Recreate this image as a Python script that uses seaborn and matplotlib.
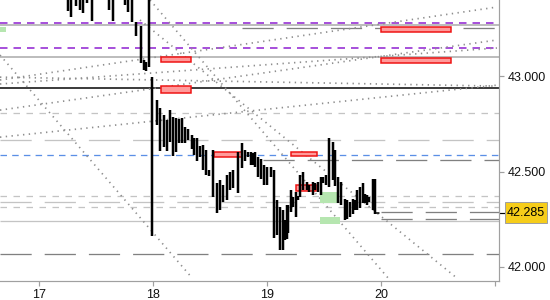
import matplotlib
matplotlib.use("Agg")
import matplotlib.pyplot as plt
import matplotlib.transforms as mtransforms
from matplotlib.patches import Rectangle
import numpy as np
import pandas as pd
import seaborn as sns

# ---------------- data ----------------
bar_day = [17.252, 17.278, 17.318, 17.357, 17.388, 17.419, 17.467, 17.608, 17.643, 17.752, 17.779, 17.814,
           17.849, 17.893, 17.919, 17.937, 17.963,
           17.989, 18.033, 18.062, 18.092, 18.121, 18.145, 18.174, 18.200, 18.226, 18.256, 18.279, 18.308,
           18.338, 18.361, 18.385, 18.411, 18.440, 18.464, 18.490, 18.522,
           18.560, 18.587, 18.613, 18.644, 18.674, 18.705, 18.747, 18.777, 18.806, 18.832, 18.858, 18.879,
           18.894, 18.923, 18.946, 18.973, 19.002, 19.032, 19.061,
           19.087, 19.113, 19.137, 19.153, 19.172, 19.186, 19.207, 19.230, 19.254, 19.274, 19.289, 19.318,
           19.348, 19.371, 19.400, 19.421, 19.450, 19.471, 19.493,
           19.517, 19.546, 19.576, 19.596, 19.625, 19.646, 19.684, 19.704, 19.728, 19.752, 19.772, 19.787,
           19.816, 19.839, 19.860, 19.880, 19.897, 19.927, 19.950]
bar_high = [43.45, 43.45, 43.45, 43.45, 43.45, 43.45, 43.45, 43.45, 43.45, 43.45, 43.45, 43.45,
            43.285, 43.264, 43.086, 43.075, 43.45,
            42.998, 42.876, 42.832, 42.797, 42.770, 42.823, 42.788, 42.779, 42.774, 42.779, 42.735, 42.722,
            42.692, 42.674, 42.674, 42.634, 42.639, 42.613, 42.508, 42.613,
            42.439, 42.455, 42.429, 42.482, 42.497, 42.508, 42.604, 42.648, 42.613, 42.602, 42.604, 42.596,
            42.604, 42.578, 42.569, 42.534, 42.525, 42.525, 42.508,
            42.351, 42.315, 42.298, 42.245, 42.325, 42.325, 42.403, 42.366, 42.394, 42.371, 42.482, 42.499,
            42.446, 42.429, 42.446, 42.439, 42.446, 42.473, 42.473,
            42.482, 42.674, 42.657, 42.613, 42.473, 42.446, 42.359, 42.350, 42.341, 42.359, 42.350, 42.403,
            42.420, 42.438, 42.385, 42.377, 42.368, 42.464, 42.464]
bar_low = [43.343, 43.311, 43.369, 43.348, 43.332, 43.385, 43.290, 43.348, 43.290, 43.374, 43.338, 43.285,
           43.212, 43.070, 43.033, 43.028, 43.049,
           42.163, 42.744, 42.608, 42.630, 42.608, 42.657, 42.581, 42.604, 42.651, 42.648, 42.651, 42.665,
           42.617, 42.587, 42.557, 42.578, 42.508, 42.482, 42.476, 42.368,
           42.284, 42.298, 42.340, 42.350, 42.403, 42.413, 42.389, 42.517, 42.557, 42.576, 42.534, 42.534,
           42.525, 42.473, 42.464, 42.429, 42.429, 42.473, 42.151,
           42.165, 42.088, 42.088, 42.141, 42.144, 42.177, 42.289, 42.313, 42.263, 42.350, 42.368, 42.403,
           42.403, 42.394, 42.377, 42.403, 42.394, 42.377, 42.438,
           42.429, 42.420, 42.455, 42.424, 42.333, 42.324, 42.245, 42.254, 42.263, 42.280, 42.298, 42.298,
           42.307, 42.333, 42.333, 42.324, 42.342, 42.298, 42.280]
last_price = 42.285
last_day = 19.950

# horizontal levels: price, style key, start day (None = full width)
level_price = [43.278, 43.147, 43.269, 43.100, 43.252, 42.937, 42.806, 42.665, 42.585, 42.559,
               42.371, 42.343, 42.317, 42.240, 42.286, 42.254, 42.070]
level_style = ["purple", "purple", "grey", "grey", "dark", "black", "light_short", "light_long", "blue", "dark",
               "light_short", "light_long", "light_short", "light_solid", "dark", "dark", "dark"]
level_start = [None, None, None, None, 18.78, None, None, None, None, 18.96,
               None, None, None, None, 20.0, 20.0, None]

# dotted trend lines: (day0, price0, day1, price1)
trend_x0 = [16.655, 17.972, 17.884, 16.655, 16.655, 16.655, 16.655, 16.655]
trend_y0 = [43.112, 43.401, 43.296, 42.981, 42.823, 42.681, 42.996, 42.960]
trend_x1 = [18.343, 20.079, 20.667, 21.018, 21.018, 21.018, 21.018, 21.018]
trend_y1 = [41.941, 41.930, 41.941, 43.364, 43.191, 42.954, 42.949, 43.149]

# red zones: day0, day1, price_low, price_high
red_x0 = [18.069, 18.069, 20.000, 20.000, 18.534, 19.210, 19.254]
red_x1 = [18.329, 18.329, 20.612, 20.612, 18.782, 19.435, 19.432]
red_lo = [43.077, 42.914, 43.234, 43.071, 42.575, 42.580, 42.401]
red_hi = [43.103, 42.949, 43.261, 43.095, 42.601, 42.601, 42.431]

# green zones
green_x0 = [16.655, 19.465, 19.465]
green_x1 = [16.708, 19.632, 19.640]
green_lo = [43.233, 42.333, 42.224]
green_hi = [43.259, 42.392, 42.261]

x_ticks = [17, 18, 19, 20, 21]
x_tick_labels = ["17", "18", "19", "20", ""]
y_ticks = [42.0, 42.5, 43.0]
y_tick_labels = ["42.000", "42.500", "43.000"]

# ---------------- style ----------------
sns.set_theme(style="white")
plt.rcParams["font.family"] = ["Liberation Sans", "DejaVu Sans"]

PX = 0.72  # points per pixel at dpi 100
W, H = 550, 300
fig = plt.figure(figsize=(W / 100, H / 100), dpi=100)
ax = fig.add_axes([0, 1 - 281 / H, 499 / W, 281 / H])
ax.set_xlim(16.655, 21.036)
ax.set_ylim(41.926, 43.401)

styles = {
    "purple": dict(color="#8c1ad0", lw=1.5 * PX, ls=(0, (5, 4))),
    "grey": dict(color="#a8a8a8", lw=1.5 * PX, ls="-"),
    "dark": dict(color="#808080", lw=1.3 * PX, ls=(0, (24, 10))),
    "black": dict(color="#000000", lw=1.5 * PX, ls="-"),
    "light_short": dict(color="#c4c4c4", lw=1.3 * PX, ls=(0, (5, 5))),
    "light_long": dict(color="#c4c4c4", lw=1.3 * PX, ls=(0, (24, 10))),
    "light_solid": dict(color="#c4c4c4", lw=1.3 * PX, ls="-"),
    "blue": dict(color="#5b8fe6", lw=1.3 * PX, ls=(0, (5, 4))),
}

xmin, xmax = ax.get_xlim()
for p, s, st in zip(level_price, level_style, level_start):
    kw = styles[s]
    x0 = xmin if st is None else st
    ax.plot([x0, xmax], [p, p], color=kw["color"], lw=kw["lw"],
            linestyle=kw["ls"], zorder=1, solid_capstyle="butt", dash_capstyle="butt")

# dotted trend lines via seaborn
rows = []
for i, (a, b, c, d) in enumerate(zip(trend_x0, trend_y0, trend_x1, trend_y1)):
    rows.append({"line": i, "x": a, "y": b})
    rows.append({"line": i, "x": c, "y": d})
tdf = pd.DataFrame(rows)
sns.lineplot(data=tdf, x="x", y="y", units="line", estimator=None, sort=False,
             color="#8e8e8e", lw=1.7 * PX, linestyle=(0, (0.8, 2.6)), ax=ax, zorder=2,
             legend=False)

# zones
for a, b, lo, hi in zip(green_x0, green_x1, green_lo, green_hi):
    ax.add_patch(Rectangle((a, lo), b - a, hi - lo, facecolor="#b6e6b0", edgecolor="none", zorder=3))
for a, b, lo, hi in zip(red_x0, red_x1, red_lo, red_hi):
    ax.add_patch(Rectangle((a, lo), b - a, hi - lo, facecolor="#ff9a9a", edgecolor="#ee1111",
                           lw=1.5 * PX, zorder=3))

# price bars
bdf = pd.DataFrame({"day": bar_day, "high": bar_high, "low": bar_low})
ax.vlines(bdf["day"], bdf["low"], bdf["high"], color="black", lw=2.5 * PX, zorder=4)
ax.plot([last_day, last_day + 0.03], [last_price, last_price], color="black", lw=1.5 * PX, zorder=4)

# axes cosmetics
for side in ["top", "left"]:
    ax.spines[side].set_visible(False)
for side in ["right", "bottom"]:
    ax.spines[side].set_color("#a0a0a0")
    ax.spines[side].set_linewidth(1.2 * PX)
ax.yaxis.tick_right()
ax.set_xticks(x_ticks)
ax.set_xticklabels(x_tick_labels)
ax.set_yticks(y_ticks)
ax.set_yticklabels(y_tick_labels)
ax.tick_params(axis="both", which="both", direction="out", length=5 * PX, width=1.2 * PX,
               color="#a0a0a0", labelsize=9, labelcolor="#111111")
ax.tick_params(axis="x", pad=2, bottom=True)
ax.tick_params(axis="y", pad=3, right=True, left=False)
ax.set_xlabel("")
ax.set_ylabel("")
ax.grid(False)

# last price marker & label
trans = mtransforms.blended_transform_factory(ax.transAxes, ax.transData)
ax.plot([1.0, 1.012], [last_price, last_price], color="black", lw=1.2 * PX, transform=trans, clip_on=False)
box_h = 20.6 / 190.4
ax.add_patch(Rectangle((1.012, last_price - box_h / 2), 0.084, box_h, transform=trans, clip_on=False,
                       facecolor="#f6cd1a", edgecolor="#a0a0a0", lw=1.0 * PX, zorder=10))
ax.text(1.054, last_price, f"{last_price:.3f}", transform=trans, ha="center", va="center",
        fontsize=9, color="black", zorder=11, clip_on=False)

fig.savefig("out.png", dpi=100)
